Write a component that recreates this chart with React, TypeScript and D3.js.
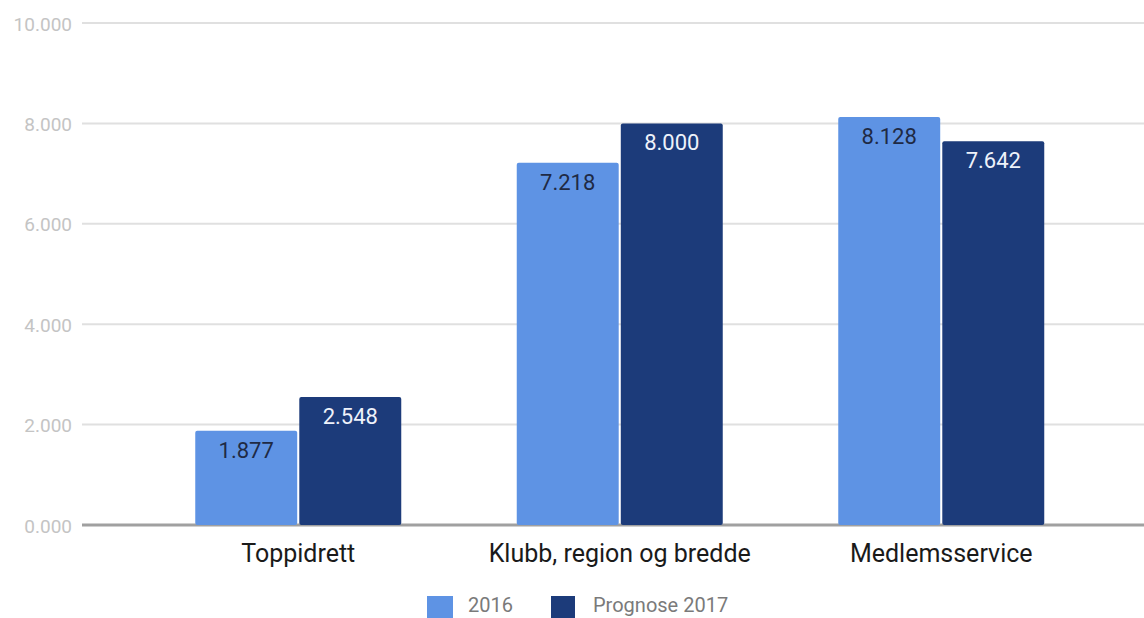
import React from "react";
import * as d3 from "d3";

const categories = ["Toppidrett", "Klubb, region og bredde", "Medlemsservice"];
const seriesNames = ["2016", "Prognose 2017"];
const values2016 = [1877, 7218, 8128];
const valuesPrognose2017 = [2548, 8000, 7642];
const yTicks = [0, 2000, 4000, 6000, 8000, 10000];
const colors = ["#5e93e4", "#1c3b7a"];

const fmt = (v: number) => (v / 1000).toFixed(3);

export default function App() {
  const W = 1144, H = 618;
  const y = d3.scaleLinear().domain([0, 10000]).range([525, 23]);
  const x = d3.scaleBand<string>().domain(categories).range([137.5, 1102]).padding(0);
  const groupW = 206;
  const xs = d3.scaleBand<string>().domain(seriesNames).range([0, groupW]).paddingInner(0.02);
  const series = [values2016, valuesPrognose2017];

  return (
    <svg width={W} height={H} style={{ position: "absolute", left: 0, top: 0, fontFamily: "Roboto, sans-serif" }}>
      <rect width={W} height={H} fill="#fff" />
      {yTicks.map((t) => (
        <g key={t}>
          <line x1={82} x2={W} y1={y(t)} y2={y(t)} stroke={t === 0 ? "#a0a0a0" : "#e0e0e0"} strokeWidth={t === 0 ? 3 : 2} />
          <text x={72} y={y(t) + 1} dy="0.35em" textAnchor="end" fontSize={19} fill="#c4c4c4">{fmt(t)}</text>
        </g>
      ))}
      {categories.map((c, i) => {
        const gx = (x(c) as number) + x.bandwidth() / 2 - groupW / 2;
        return (
          <g key={c}>
            {series.map((s, j) => {
              const bx = gx + (xs(seriesNames[j]) as number);
              const bw = xs.bandwidth();
              const top = y(s[i]);
              return (
                <g key={j}>
                  <rect x={bx} y={top} width={bw} height={y(0) - top} fill={colors[j]} rx={2} />
                  <text x={bx + bw / 2} y={top + 27} textAnchor="middle" fontSize={22} fill={j === 0 ? "#1f2a44" : "#eef2fa"}>{fmt(s[i])}</text>
                </g>
              );
            })}
            <text x={(x(c) as number) + x.bandwidth() / 2} y={562} textAnchor="middle" fontSize={25} fill="#1a1a1a">{c}</text>
          </g>
        );
      })}
      <g>
        <rect x={427} y={596} width={26} height={22} fill={colors[0]} />
        <text x={468} y={612} fontSize={20} fill="#7a7a7a">{seriesNames[0]}</text>
        <rect x={551} y={596} width={24} height={22} fill={colors[1]} />
        <text x={593} y={612} fontSize={20} fill="#7a7a7a">{seriesNames[1]}</text>
      </g>
    </svg>
  );
}
